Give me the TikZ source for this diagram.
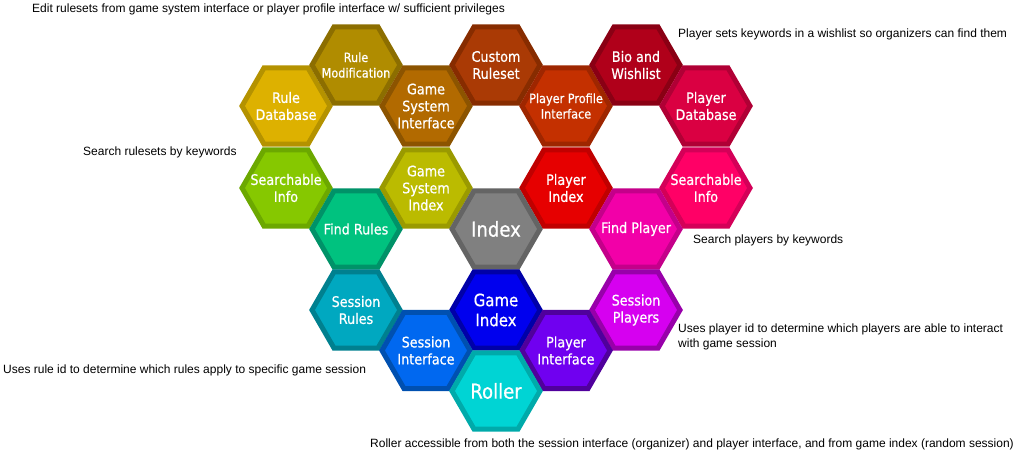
\documentclass[tikz,border=0pt]{standalone}
\usepackage{fontspec}
\setmainfont{Liberation Sans}
\newfontfamily\hexfont[FakeStretch=0.88,FakeBold=0.6]{DejaVu Sans}
\usepackage{tikz}
\usetikzlibrary{shapes.geometric}

\definecolor{ruledbfill}{RGB}{221,177,0}
\definecolor{ruledbedge}{RGB}{180,146,0}
\definecolor{rulemodfill}{RGB}{176,140,0}
\definecolor{rulemodedge}{RGB}{140,110,0}
\definecolor{gsifacefill}{RGB}{178,106,0}
\definecolor{gsifaceedge}{RGB}{140,84,0}
\definecolor{customfill}{RGB}{170,58,5}
\definecolor{customedge}{RGB}{135,44,0}
\definecolor{ppifacefill}{RGB}{196,48,0}
\definecolor{ppifaceedge}{RGB}{158,38,0}
\definecolor{biofill}{RGB}{176,0,26}
\definecolor{bioedge}{RGB}{138,0,20}
\definecolor{playerdbfill}{RGB}{218,0,66}
\definecolor{playerdbedge}{RGB}{176,0,53}
\definecolor{rulesearchfill}{RGB}{134,200,0}
\definecolor{rulesearchedge}{RGB}{108,168,0}
\definecolor{gsindexfill}{RGB}{187,187,0}
\definecolor{gsindexedge}{RGB}{154,154,0}
\definecolor{pindexfill}{RGB}{230,0,0}
\definecolor{pindexedge}{RGB}{192,0,0}
\definecolor{psearchfill}{RGB}{255,0,102}
\definecolor{psearchedge}{RGB}{212,0,88}
\definecolor{findrulesfill}{RGB}{0,194,127}
\definecolor{findrulesedge}{RGB}{0,146,104}
\definecolor{indexfill}{RGB}{128,128,128}
\definecolor{indexedge}{RGB}{100,100,100}
\definecolor{findplayerfill}{RGB}{242,0,168}
\definecolor{findplayeredge}{RGB}{196,0,138}
\definecolor{sessrulesfill}{RGB}{0,168,192}
\definecolor{sessrulesedge}{RGB}{0,128,143}
\definecolor{gameindexfill}{RGB}{0,0,238}
\definecolor{gameindexedge}{RGB}{0,0,168}
\definecolor{sessplayersfill}{RGB}{214,0,240}
\definecolor{sessplayersedge}{RGB}{152,0,170}
\definecolor{sessifacefill}{RGB}{0,104,240}
\definecolor{sessifaceedge}{RGB}{0,80,176}
\definecolor{pifacefill}{RGB}{112,0,240}
\definecolor{pifaceedge}{RGB}{80,0,156}
\definecolor{rollerfill}{RGB}{0,212,212}
\definecolor{rolleredge}{RGB}{0,170,170}

\begin{document}
\begin{tikzpicture}[x=1pt, y=-1pt,
  hexcell/.style={regular polygon, regular polygon sides=6, minimum size=88pt,
    inner sep=0pt, outer sep=0pt, line width=5pt},
  hextext/.style={text=white, align=center, inner sep=0pt,
    font=\hexfont\fontsize{14.5}{17}\selectfont},
  hexsmall/.style={hextext, font=\hexfont\fontsize{12.8}{15.5}\selectfont},
  hexmid/.style={hextext, font=\hexfont\fontsize{17}{20}\selectfont},
  hexbig/.style={hextext, font=\hexfont\fontsize{20.5}{24}\selectfont},
  note/.style={anchor=west, inner sep=0pt, align=left,
    font=\fontsize{12}{14.5}\selectfont}]

  \useasboundingbox (0,0) rectangle (1020,462);

  %% Rules side
  \node[hexcell, fill=ruledbfill, draw=ruledbedge,
    label={[hextext]center:{Rule\\Database}}] (ruledb) at (286,106) {};
  \node[hexcell, fill=rulemodfill, draw=rulemodedge,
    label={[hexsmall]center:{Rule\\Modification}}] (rulemod) at (356,65) {};
  \node[hexcell, fill=gsifacefill, draw=gsifaceedge,
    label={[hextext]center:{Game\\System\\Interface}}] (gsiface) at (426,106) {};
  \node[hexcell, fill=customfill, draw=customedge,
    label={[hextext]center:{Custom\\Ruleset}}] (custom) at (496,65) {};
  \node[hexcell, fill=rulesearchfill, draw=rulesearchedge,
    label={[hextext]center:{Searchable\\Info}}] (rulesearch) at (286,188) {};
  \node[hexcell, fill=gsindexfill, draw=gsindexedge,
    label={[hextext]center:{Game\\System\\Index}}] (gsindex) at (426,188) {};
  \node[hexcell, fill=findrulesfill, draw=findrulesedge,
    label={[hextext]center:{Find Rules}}] (findrules) at (356,229) {};

  %% Player side
  \node[hexcell, fill=ppifacefill, draw=ppifaceedge,
    label={[hexsmall]center:{Player Profile\\Interface}}] (ppiface) at (566,106) {};
  \node[hexcell, fill=biofill, draw=bioedge,
    label={[hextext]center:{Bio and\\Wishlist}}] (bio) at (636,65) {};
  \node[hexcell, fill=playerdbfill, draw=playerdbedge,
    label={[hextext]center:{Player\\Database}}] (playerdb) at (706,106) {};
  \node[hexcell, fill=pindexfill, draw=pindexedge,
    label={[hextext]center:{Player\\Index}}] (pindex) at (566,188) {};
  \node[hexcell, fill=psearchfill, draw=psearchedge,
    label={[hextext]center:{Searchable\\Info}}] (psearch) at (706,188) {};
  \node[hexcell, fill=findplayerfill, draw=findplayeredge,
    label={[hextext]center:{Find Player}}] (findplayer) at (636,229) {};

  %% Centre
  \node[hexcell, fill=indexfill, draw=indexedge,
    label={[hexbig]center:{Index}}] (index) at (496,229) {};

  %% Session side
  \node[hexcell, fill=sessrulesfill, draw=sessrulesedge,
    label={[hextext]center:{Session\\Rules}}] (sessrules) at (356,310) {};
  \node[hexcell, fill=gameindexfill, draw=gameindexedge,
    label={[hexmid]center:{Game\\Index}}] (gameindex) at (496,310) {};
  \node[hexcell, fill=sessplayersfill, draw=sessplayersedge,
    label={[hextext]center:{Session\\Players}}] (sessplayers) at (636,310) {};
  \node[hexcell, fill=sessifacefill, draw=sessifaceedge,
    label={[hextext]center:{Session\\Interface}}] (sessiface) at (426,350.5) {};
  \node[hexcell, fill=pifacefill, draw=pifaceedge,
    label={[hextext]center:{Player\\Interface}}] (piface) at (566,350.5) {};
  \node[hexcell, fill=rollerfill, draw=rolleredge,
    label={[hexbig]center:{Roller}}] (roller) at (496,391) {};

  %% Notes
  \node[note] (editnote) at (32,9)
    {Edit rulesets from game system interface or player profile interface w/ sufficient privileges};
  \node[note] (wishnote) at (678,34)
    {Player sets keywords in a wishlist so organizers can find them};
  \node[note] (rulesearchnote) at (83,152) {Search rulesets by keywords};
  \node[note] (psearchnote) at (693,240) {Search players by keywords};
  \node[note] (sessrulesnote) at (3,370)
    {Uses rule id to determine which rules apply to specific game session};
  \node[note] (sessplayersnote) at (678,337)
    {Uses player id to determine which players are able to interact\\with game session};
  \node[note] (rollernote) at (370,444)
    {Roller accessible from both the session interface (organizer) and player interface, and from game index (random session)};

\end{tikzpicture}
\end{document}
